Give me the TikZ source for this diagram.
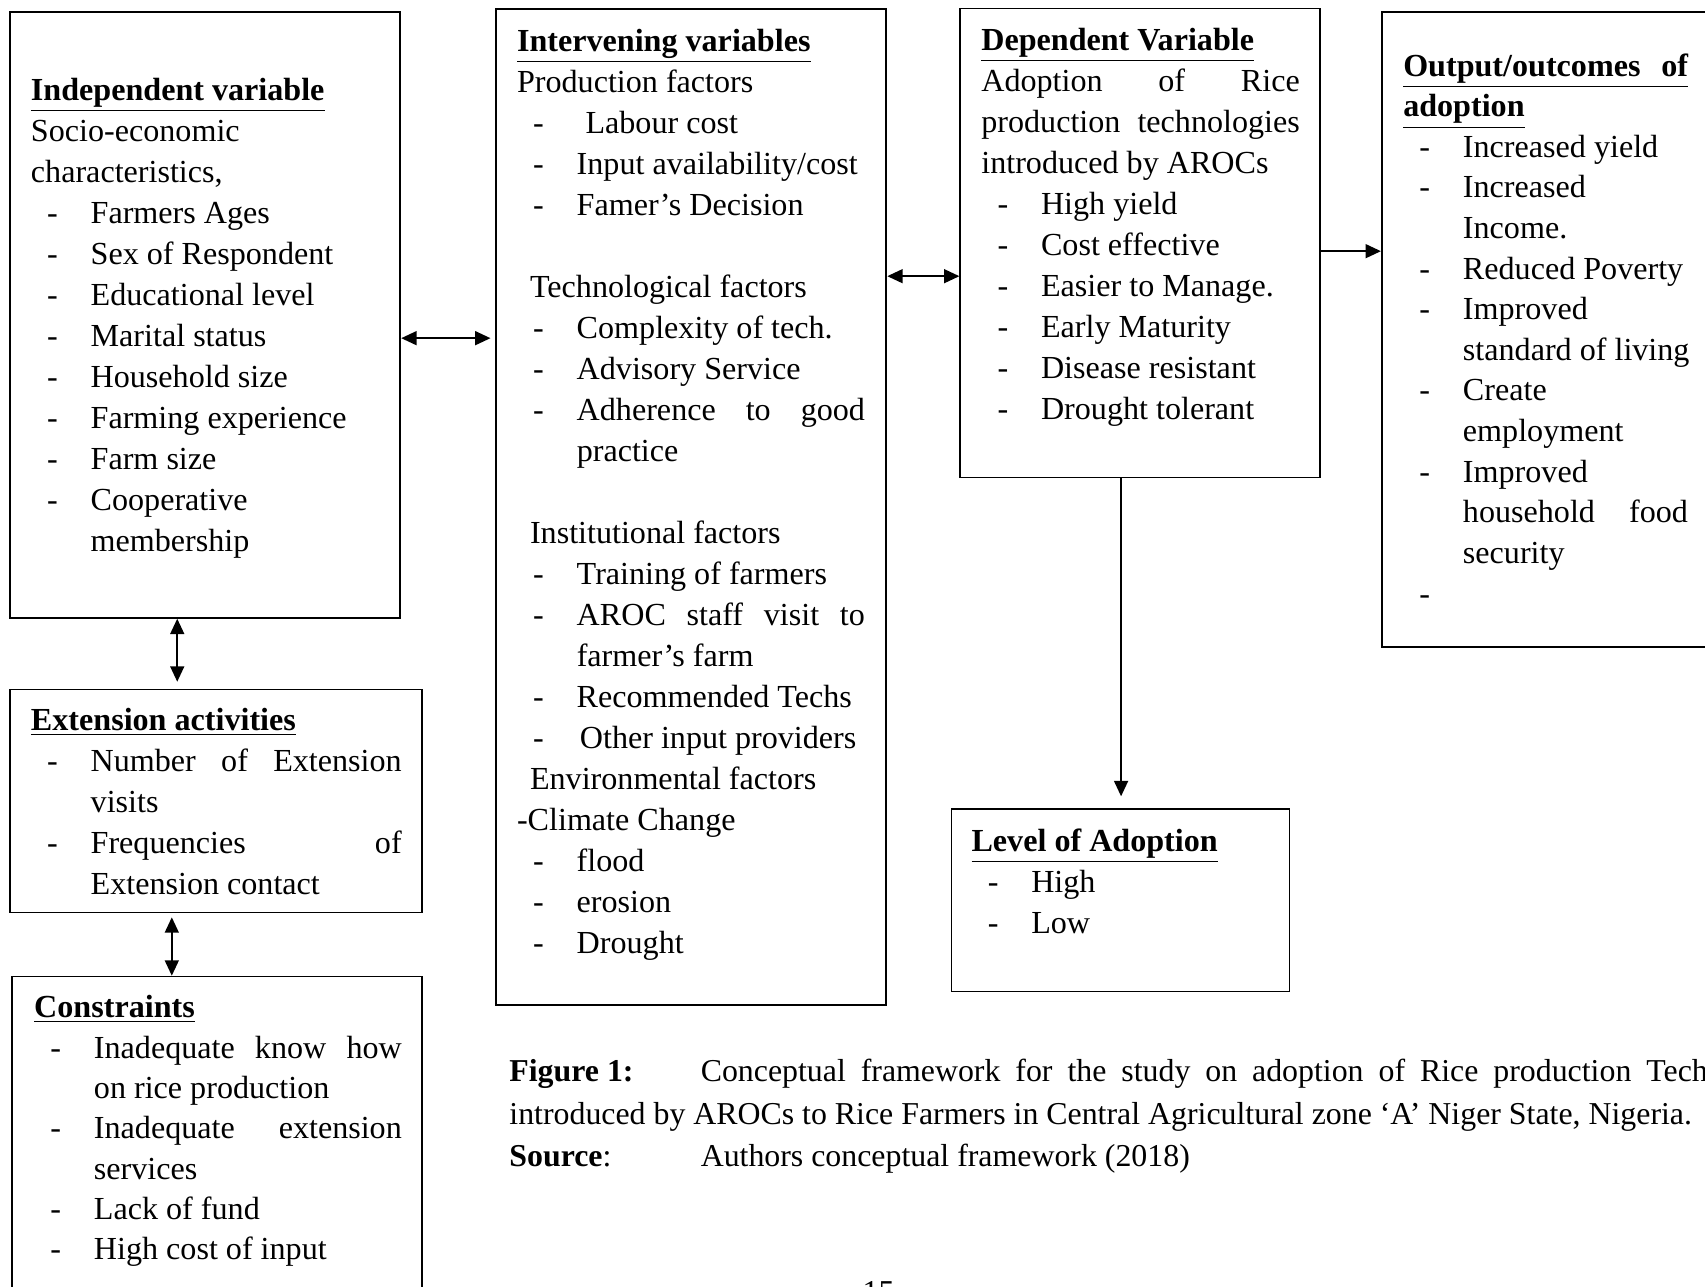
\documentclass[tikz,border=0pt]{standalone}
\usepackage{fontspec}
\setmainfont{Liberation Serif}
\usetikzlibrary{arrows.meta, fit, positioning}

\newcommand{\boxhead}[1]{\underline{\textbf{#1}}}
\newcommand{\dashitem}[1]{\hspace*{6.1pt}\makebox[16.4pt][l]{-}#1}
\newcommand{\contline}[1]{\hspace*{22.5pt}#1}
\newcommand{\fullline}[1]{\makebox[\linewidth][s]{\spaceskip=.25em plus 1fil\relax #1}}
\newcommand{\wordspace}{\spaceskip=.25em plus .2em minus .05em\relax}

\begin{document}
\begin{tikzpicture}[x=0.4097pt, y=-0.4097pt,
  thickbox/.style={draw, line width=0.8pt, inner sep=0pt},
  thinbox/.style={draw, line width=0.55pt, inner sep=0pt},
  boxtext/.style={anchor=base west, inner sep=0pt, font=\fontsize{12.1}{15.45}\selectfont,
    execute at begin node={\wordspace}},
  biarrow/.style={{Triangle[length=5.8pt,width=5.2pt]}-{Triangle[length=5.8pt,width=5.2pt]}, line width=0.8pt},
  onearrow/.style={-{Triangle[length=5.8pt,width=5.2pt]}, line width=0.8pt}]

\useasboundingbox (0,0) rectangle (1568,1183);

% boxes
\node[thickbox, fit={(9,11) (368,568)}] (indep) {};
\node[thickbox, fit={(456,8) (815,924)}] (interv) {};
\node[thinbox, fit={(883,8) (1214,439)}] (dep) {};
\node[thickbox, fit={(1271,11) (1600,595)}] (outc) {};
\node[thinbox, fit={(9,634) (388,839)}] (ext) {};
\node[thinbox, fit={(11,898) (388,1200)}] (constr) {};
\node[thinbox, fit={(875,744) (1186,912)}] (level) {};

% box contents
\node[boxtext, text width=139.3pt] (indeptxt) at (28,92) {\boxhead{Independent variable}\\
  Socio-economic\\
  characteristics,\\
  \dashitem{Farmers Ages}\\
  \dashitem{Sex of Respondent}\\
  \dashitem{Educational level}\\
  \dashitem{Marital status}\\
  \dashitem{Household size}\\
  \dashitem{Farming experience}\\
  \dashitem{Farm size}\\
  \dashitem{Cooperative}\\
  \contline{membership}};

\node[boxtext, text width=131.1pt] (intervtxt) at (475,47) {\boxhead{Intervening variables}\\
  Production factors\\
  \dashitem{\hspace*{3.3pt}Labour cost}\\
  \dashitem{Input availability/cost}\\
  \dashitem{Famer’s Decision}\\
  ~\\
  \hspace*{4.9pt}Technological factors\\
  \dashitem{Complexity of tech.}\\
  \dashitem{Advisory Service}\\
  \fullline{\dashitem{Adherence to good}}\\
  \contline{practice}\\
  ~\\
  \hspace*{4.9pt}Institutional factors\\
  \dashitem{Training of farmers}\\
  \fullline{\dashitem{AROC staff visit to}}\\
  \contline{farmer’s farm}\\
  \dashitem{Recommended Techs}\\
  \dashitem{\hspace*{1.2pt}Other input providers}\\
  \hspace*{4.9pt}Environmental factors\\
  -Climate Change\\
  \dashitem{flood}\\
  \dashitem{erosion}\\
  \dashitem{Drought}};

\node[boxtext, text width=120pt] (deptxt) at (902,46) {\boxhead{Dependent Variable}\\
  \fullline{Adoption of Rice}\\
  \fullline{production technologies}\\
  introduced by AROCs\\
  \dashitem{High yield}\\
  \dashitem{Cost effective}\\
  \dashitem{Easier to Manage.}\\
  \dashitem{Early Maturity}\\
  \dashitem{Disease resistant}\\
  \dashitem{Drought tolerant}};

\node[boxtext, text width=107.3pt, font=\fontsize{12.1}{15.3}\selectfont] (outctxt) at (1290,70) {\boxhead{\fullline{Output/outcomes of}}\\
  \boxhead{adoption}\\
  \dashitem{Increased yield}\\
  \dashitem{Increased}\\
  \contline{Income.}\\
  \dashitem{Reduced Poverty}\\
  \dashitem{Improved}\\
  \contline{\mbox{standard of living}}\\
  \dashitem{Create}\\
  \contline{employment}\\
  \dashitem{Improved}\\
  \fullline{\contline{household food}}\\
  \contline{security}\\
  \dashitem{}};

\node[boxtext, text width=139.7pt] (exttxt) at (28,672) {\boxhead{Extension activities}\\
  \fullline{\dashitem{Number of Extension}}\\
  \contline{visits}\\
  \fullline{\dashitem{Frequencies of}}\\
  \contline{Extension contact}};

\node[boxtext, text width=138.5pt, font=\fontsize{12.1}{15.2}\selectfont] (constrtxt) at (31,936) {\boxhead{Constraints}\\
  \fullline{\dashitem{Inadequate know how}}\\
  \contline{on rice production}\\
  \fullline{\dashitem{Inadequate extension}}\\
  \contline{services}\\
  \dashitem{Lack of fund}\\
  \dashitem{High cost of input}};

\node[boxtext, text width=114pt] (leveltxt) at (893,783) {\boxhead{Level of Adoption}\\
  \dashitem{High}\\
  \dashitem{Low}};

% caption under the diagram
\node[boxtext, text width=451.5pt, font=\fontsize{12}{16}\selectfont] (caption) at (468,995) {%
  \fullline{\makebox[72.1pt][l]{\textbf{Figure\hspace{0.25em}1:}}Conceptual framework for the study on adoption of Rice production Tech}\\
  \mbox{introduced by AROCs to Rice Farmers in Central Agricultural zone ‘A’ Niger State, Nigeria.}\\
  \makebox[72.1pt][l]{\textbf{Source}:}Authors conceptual framework (2018)};
\node[anchor=base, inner sep=0pt, font=\fontsize{12}{15.4}\selectfont] (pagenum) at (808,1198) {15};

% connectors
\draw[biarrow, shorten >=1.6pt] (indep.east |- 0,311) -- (interv.west |- 0,311);
\draw[biarrow] (interv.east |- 0,254) -- (dep.west |- 0,254);
\draw[onearrow] (dep.east |- 0,231) -- (outc.west |- 0,231);
\draw[onearrow, shorten >=4.5pt] (1031,0 |- dep.south) -- (1031,0 |- level.north);
\draw[biarrow, shorten >=2.6pt] (163,0 |- indep.south) -- (163,0 |- ext.north);
\draw[biarrow, shorten <=1.6pt] (158,0 |- ext.south) -- (158,0 |- constr.north);
\end{tikzpicture}
\end{document}
